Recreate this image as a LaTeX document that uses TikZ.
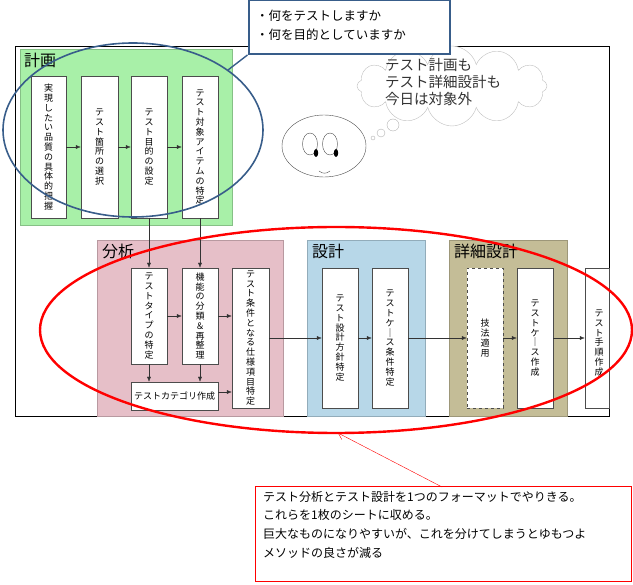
\documentclass[tikz,border=0pt]{standalone}
\usepackage{fontspec}
\setmainfont{Noto Sans CJK JP}
\usetikzlibrary{arrows.meta,shapes.symbols}
\definecolor{plangreen}{HTML}{A8F0A8}
\definecolor{anapink}{HTML}{E6BFC8}
\definecolor{desblue}{HTML}{B7D7E8}
\definecolor{detkhaki}{HTML}{C4BD97}
\definecolor{calloutblue}{HTML}{385D8A}
\tikzset{
  phase/.style={draw=#1!80!black, fill=#1},
  phaselabel/.style={anchor=north west, font=\fontsize{16}{16}\selectfont, inner sep=0pt},
  task/.style={draw=black!70, fill=white, minimum width=36pt},
  tatetext/.style={align=center, font=\fontsize{9}{9.8}\selectfont, inner sep=0pt},
  flow/.style={-{Latex[length=5pt,width=4pt]}, black!80}
}
% one character per line
\def\stk#1{\ifx\relax#1\else\\#1\expandafter\stk\fi}
\newcommand{\tatestack}[1]{\stkfirst#1\relax}
\def\stkfirst#1{#1\stk}
\newcommand{\taskbox}[5]{% name, x1, y1, x2, y2
  \node[task, minimum width={#4-#2}, minimum height={#5-#3}, inner sep=0pt] (#1) at ({(#2+#4)/2},{(#3+#5)/2}) {};}
\begin{document}
\begin{tikzpicture}[x=1pt,y=-1pt]
\useasboundingbox (0,0) rectangle (633,585);
% frame
\draw[black] (15,46) rectangle (609,416);
% phases
\draw[phase=plangreen] (20,49) rectangle (232,225);
\node[phaselabel] at (24,53) {計画};
\draw[phase=anapink] (97,240) rectangle (283,416);
\node[phaselabel] at (102,244) {分析};
\draw[phase=desblue] (307,240) rectangle (425,416);
\node[phaselabel] at (312,244) {設計};
\draw[phase=detkhaki] (449,240) rectangle (567,416);
\node[phaselabel] at (454,244) {詳細設計};
% plan tasks
\taskbox{quality}{31}{76}{66}{218}
\taskbox{scope}{81}{76}{118}{218}
\taskbox{goal}{131}{76}{167}{218}
\taskbox{item}{182}{76}{218}{218}
\node[tatetext] at (quality) {\tatestack{実現したい品質の具体的把握}};
\node[tatetext] at (scope) {\tatestack{テスト箇所の選択}};
\node[tatetext] at (goal) {\tatestack{テスト目的の設定}};
\node[tatetext] at (item) {\tatestack{テスト対象アイテムの特定}};
% analysis tasks
\taskbox{ttype}{131}{268}{167}{364}
\taskbox{func}{182}{268}{218}{364}
\taskbox{cond}{232}{268}{269}{408}
\taskbox{categ}{131}{382}{218}{410}
\node[tatetext] at (ttype) {\tatestack{テストタイプの特定}};
\node[tatetext] at (func) {\tatestack{機能の分類＆再整理}};
\node[tatetext] at (cond) {\tatestack{テスト条件となる仕様項目特定}};
\node[font=\fontsize{9}{9}\selectfont, inner sep=0pt] at (categ) {テストカテゴリ作成};
% design tasks
\taskbox{policy}{322}{268}{358}{408}
\taskbox{ccond}{372}{268}{408}{408}
\node[tatetext] at (policy) {\tatestack{テスト設計方針特定}};
\node[tatetext] at (ccond) {\tatestack{テストケ｜ス条件特定}};
% detail tasks
\node[draw=black!70, dashed, fill=white, minimum width=36pt, minimum height=140pt, inner sep=0pt] (tech) at (485,338) {};
\taskbox{case}{517}{268}{553}{408}
\taskbox{proc}{585}{268}{609}{408}
\node[tatetext] at (tech) {\tatestack{技法適用}};
\node[tatetext] at (case) {\tatestack{テストケ｜ス作成}};
\node[tatetext] at ([xshift=2pt,yshift=-5pt]proc.center) {\tatestack{テスト手順作成}};
% flows
\draw[flow] (quality) -- (scope);
\draw[flow] (scope) -- (goal);
\draw[flow] (goal) -- (item);
\draw[flow] (goal.south) -- (ttype.north);
\draw[flow] (item.south) -- (func.north);
\draw[flow] (ttype) -- (func);
\draw[flow] (func) -- (func -| cond.west);
\draw[flow] (ttype.south) -- (ttype.south |- categ.north);
\draw[flow] (func.south) -- (func.south |- categ.north);
\draw[flow] ([yshift=4pt]categ.east) -- ([yshift=4pt]categ.east -| cond.west);
\draw[flow] (cond) -- (policy);
\draw[flow] (policy) -- (ccond);
\draw[flow] (ccond) -- (tech);
\draw[flow] (tech) -- (case);
\draw[flow] (case) -- (proc);
% face
\draw[black!70] (324,146) ellipse (42 and 31);
\draw[black!70] (310,144) ellipse (7.5 and 11);
\draw[black!70] (330,144) ellipse (7.5 and 11);
\fill (316,153) ellipse (2.2 and 4);
\fill (336,153) ellipse (2.2 and 4);
\draw[black!70] (319,171) .. controls (323,174) and (326,174) .. (330,171);
% thought
\node[cloud, cloud puffs=12, aspect=2.3, draw=black!25, fill=white, minimum width=190pt, minimum height=80pt] (think) at (452,86) {};
\node[anchor=west, align=left, font=\fontsize{14.5}{17}\selectfont, text=black!80, inner sep=0pt] at (385,82) {テスト計画も\\テスト詳細設計も\\今日は対象外};
\draw[black!30] (373,138) circle (2);
\draw[black!30] (381,133) circle (4);
\draw[black!30] (393,125) circle (6);
% blue callout
\draw[calloutblue, line width=1.6pt] (133,130) ellipse (130 and 87);
\node[draw=calloutblue, line width=2pt, fill=white, minimum width=201pt, minimum height=54pt, inner sep=0pt] (ask) at (349,27) {};
\draw[calloutblue, line width=1.4pt] (228,70) -- (ask.south west);
\node[anchor=west, align=left, font=\fontsize{12.5}{19}\selectfont, inner sep=0pt] at (256,25) {・何をテストしますか\\・何を目的としていますか};
% red callout
\draw[red, line width=2.4pt] (336,330) ellipse (296 and 103);
\node[draw=red, fill=white, minimum width=376pt, minimum height=95pt, inner sep=0pt] (note) at (443,534) {};
\draw[red, -{Straight Barb[length=6pt,width=8pt]}] (442,487) -- (338,433);
\node[anchor=north west, align=left, font=\fontsize{12}{18.7}\selectfont, inner sep=0pt] at (263,491) {テスト分析とテスト設計を1つのフォーマットでやりきる。\\これらを1枚のシートに収める。\\巨大なものになりやすいが、これを分けてしまうとゆもつよ\\メソッドの良さが減る};
\end{tikzpicture}
\end{document}
